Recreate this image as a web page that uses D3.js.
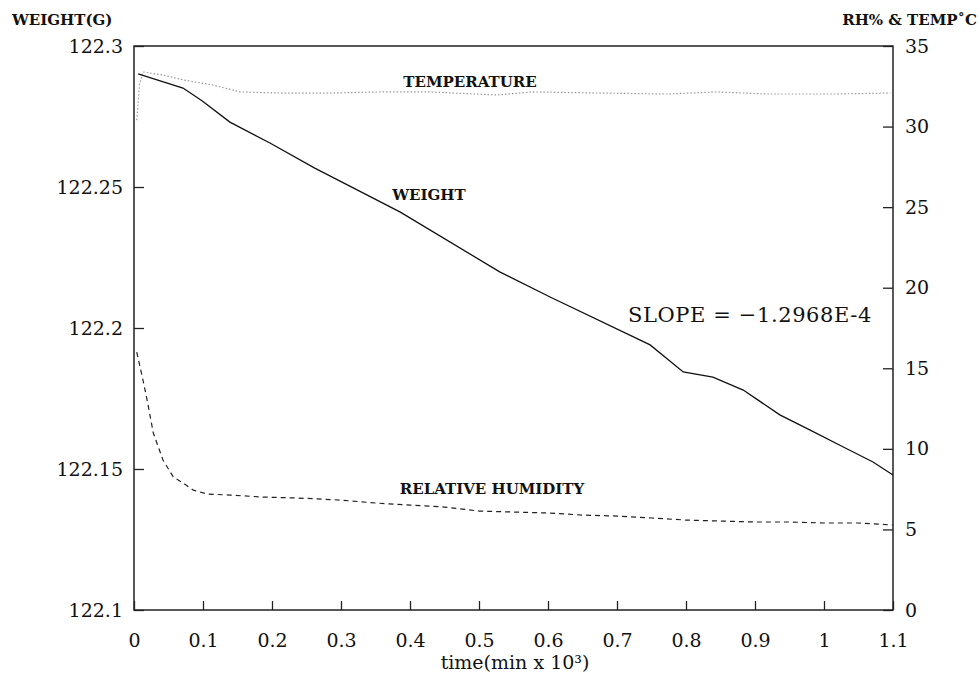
<!DOCTYPE html>
<html>
<head>
<meta charset="utf-8">
<script src="https://cdn.jsdelivr.net/npm/d3@7/dist/d3.min.js"></script>
<style>
  html, body { margin: 0; padding: 0; background: #fff; }
  svg { display: block; }
  text { font-family: "DejaVu Serif", "Liberation Serif", serif; fill: #111; }
</style>
</head>
<body>
<svg id="chart" width="980" height="674"></svg>
<script>
// ---- Data ----
const xTicks = [0, 0.1, 0.2, 0.3, 0.4, 0.5, 0.6, 0.7, 0.8, 0.9, 1, 1.1];
const xTickLabels = ["0", "0.1", "0.2", "0.3", "0.4", "0.5", "0.6", "0.7", "0.8", "0.9", "1", "1.1"];
const weightTicks = [122.1, 122.15, 122.2, 122.25, 122.3];
const weightTickLabels = ["122.1", "122.15", "122.2", "122.25", "122.3"];
const rhTicks = [0, 5, 10, 15, 20, 25, 30, 35];
const rhTickLabels = ["0", "5", "10", "15", "20", "25", "30", "35"];

// weight (g) vs time (min x 10^3)
const weightTime = [0.006, 0.071, 0.099, 0.139, 0.197, 0.262, 0.386, 0.530, 0.603, 0.748, 0.796, 0.839, 0.883, 0.904, 0.936, 0.980, 1.028, 1.071, 1.100];
const weightValues = [122.2901, 122.2851, 122.2805, 122.2730, 122.2656, 122.2567, 122.2411, 122.2199, 122.2110, 122.1940, 122.1844, 122.1826, 122.1780, 122.1745, 122.1692, 122.1638, 122.1578, 122.1525, 122.1479];

// temperature (deg C)
const tempTime = [0.004, 0.006, 0.008, 0.013, 0.042, 0.071, 0.114, 0.154, 0.212, 0.284, 0.357, 0.429, 0.526, 0.578, 0.675, 0.772, 0.845, 0.917, 1.013, 1.096];
const tempValues = [30.4, 31.5, 32.6, 33.39, 33.2, 32.9, 32.58, 32.15, 32.08, 32.08, 32.15, 32.15, 31.96, 32.15, 32.08, 32.02, 32.15, 32.02, 32.02, 32.08];

// relative humidity (%)
const rhTime = [0.004, 0.013, 0.019, 0.028, 0.042, 0.057, 0.071, 0.086, 0.106, 0.139, 0.187, 0.236, 0.265, 0.30, 0.35, 0.40, 0.45, 0.50, 0.55, 0.60, 0.65, 0.70, 0.75, 0.80, 0.85, 0.90, 0.95, 1.00, 1.05, 1.10];
const rhValues = [16.0, 14.27, 13.03, 10.98, 9.31, 8.25, 7.88, 7.44, 7.20, 7.13, 7.01, 6.95, 6.90, 6.82, 6.64, 6.51, 6.39, 6.14, 6.08, 6.02, 5.89, 5.83, 5.71, 5.58, 5.52, 5.46, 5.46, 5.40, 5.40, 5.27];

// ---- Layout ----
const svg = d3.select("#chart");
const pLeft = 134, pTop = 46, pRight = 893, pBottom = 610;

const x = d3.scaleLinear().domain([0, 1.1]).range([pLeft, pRight]);
const yW = d3.scaleLinear().domain([122.1, 122.3]).range([pBottom, pTop]);
const yR = d3.scaleLinear().domain([0, 35]).range([pBottom, pTop]);

// axes (ticks pointing inward)
const gx = svg.append("g").attr("transform", `translate(0,${pBottom})`)
  .call(d3.axisBottom(x).tickValues(xTicks).tickSize(-9).tickPadding(24)
    .tickFormat((d, i) => xTickLabels[i]));
const gl = svg.append("g").attr("transform", `translate(${pLeft},0)`)
  .call(d3.axisLeft(yW).tickValues(weightTicks).tickSize(-10).tickPadding(11)
    .tickFormat((d, i) => weightTickLabels[i]));
const gr = svg.append("g").attr("transform", `translate(${pRight},0)`)
  .call(d3.axisRight(yR).tickValues(rhTicks).tickSize(-10).tickPadding(12)
    .tickFormat((d, i) => rhTickLabels[i]));

[gx, gl, gr].forEach(g => {
  g.select(".domain").remove();
  g.selectAll(".tick line").attr("stroke", "#222").attr("stroke-width", 1.3);
  g.selectAll(".tick text").style("font-family", "DejaVu Serif, serif").style("font-size", "19px").attr("fill", "#111");
});

// frame
svg.append("rect")
  .attr("x", pLeft).attr("y", pTop)
  .attr("width", pRight - pLeft).attr("height", pBottom - pTop)
  .attr("fill", "none").attr("stroke", "#222").attr("stroke-width", 1.5);

// lines
const lineW = d3.line().x((d, i) => x(weightTime[i])).y(d => yW(d));
const lineT = d3.line().x((d, i) => x(tempTime[i])).y(d => yR(d));
const lineH = d3.line().x((d, i) => x(rhTime[i])).y(d => yR(d));

svg.append("path").datum(tempValues).attr("d", lineT)
  .attr("fill", "none").attr("stroke", "#999").attr("stroke-width", 1.2)
  .attr("stroke-dasharray", "1.5,2");
svg.append("path").datum(rhValues).attr("d", lineH)
  .attr("fill", "none").attr("stroke", "#222").attr("stroke-width", 1.2)
  .attr("stroke-dasharray", "5,4");
svg.append("path").datum(weightValues).attr("d", lineW)
  .attr("fill", "none").attr("stroke", "#111").attr("stroke-width", 1.3);

// axis titles
svg.append("text").attr("x", 12).attr("y", 25)
  .style("font-size", "15px").style("font-weight", "bold").text("WEIGHT(G)");
svg.append("text").attr("x", 977).attr("y", 25).attr("text-anchor", "end")
  .style("font-size", "15px").style("font-weight", "bold").text("RH% & TEMP˚C");
svg.append("text").attr("x", 515).attr("y", 669).attr("text-anchor", "middle")
  .style("font-size", "19px").text("time(min x 10³)");

// annotations
svg.append("text").attr("x", 470).attr("y", 87).attr("text-anchor", "middle")
  .style("font-size", "15px").style("font-weight", "bold").text("TEMPERATURE");
svg.append("text").attr("x", 429).attr("y", 200).attr("text-anchor", "middle")
  .style("font-size", "15px").style("font-weight", "bold").text("WEIGHT");
svg.append("text").attr("x", 492).attr("y", 494).attr("text-anchor", "middle")
  .style("font-size", "15px").style("font-weight", "bold").text("RELATIVE HUMIDITY");
svg.append("text").attr("x", 628).attr("y", 322)
  .style("font-size", "21px").style("letter-spacing", "0.6px").text("SLOPE = −1.2968E-4");
</script>
</body>
</html>
